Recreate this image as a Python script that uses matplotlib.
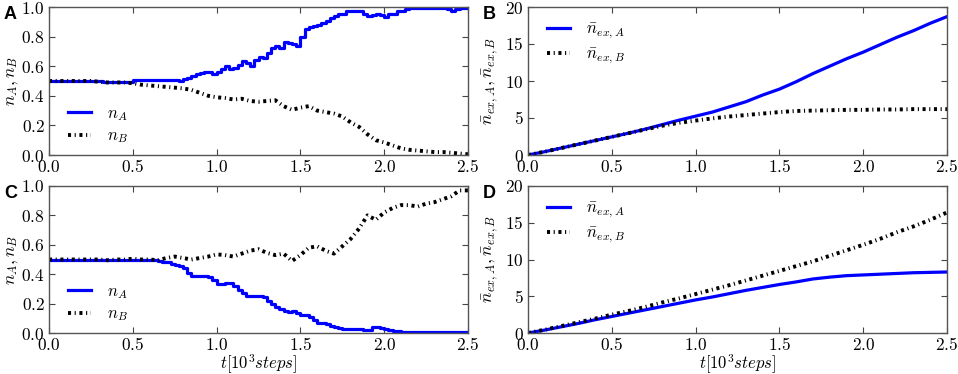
import numpy as np
import matplotlib
matplotlib.use("Agg")
import matplotlib.pyplot as plt
from matplotlib.ticker import FuncFormatter, MultipleLocator

plt.rcParams['mathtext.fontset'] = 'cm'
plt.rcParams['font.family'] = ['DejaVu Serif']
plt.rcParams['lines.scale_dashes'] = False

# ---------------- data ----------------
t_fine = np.linspace(0, 2.5, 101)   # 0.025 grid
t_mid = np.linspace(0, 2.5, 51)     # 0.05 grid
t_coarse = np.linspace(0, 2.5, 26)  # 0.1 grid

# Panel A
a_nA = [0.5] * 13 + [0.495] * 7 + [0.505] * 11 + [
    0.50, 0.515, 0.52, 0.535, 0.545, 0.555, 0.56, 0.56, 0.55, 0.56,
    0.58, 0.60, 0.58, 0.585, 0.61, 0.635, 0.62, 0.60, 0.64, 0.66,
    0.655, 0.69, 0.72, 0.735, 0.725, 0.765, 0.76, 0.75, 0.735, 0.80,
    0.85, 0.865, 0.875, 0.88, 0.89, 0.905, 0.925, 0.94, 0.95, 0.955,
    0.975, 0.975, 0.975, 0.97, 0.955, 0.94, 0.945, 0.95, 0.945, 0.935,
    0.95, 0.955, 0.97, 0.975, 0.985, 0.995, 0.995, 0.995, 0.995, 0.99,
    0.995, 0.99, 0.99, 0.99, 0.985, 0.975, 0.985, 0.99, 0.99, 0.99]
a_nB = [
    0.5, 0.5, 0.5, 0.5, 0.5, 0.5, 0.495, 0.49, 0.49, 0.49,
    0.485, 0.475, 0.47, 0.465, 0.46, 0.455, 0.45, 0.44, 0.42, 0.40,
    0.39, 0.385, 0.375, 0.38, 0.365, 0.36, 0.365, 0.37, 0.33, 0.305,
    0.32, 0.33, 0.30, 0.29, 0.28, 0.26, 0.22, 0.19, 0.14, 0.10,
    0.085, 0.065, 0.045, 0.035, 0.03, 0.025, 0.02, 0.02, 0.015, 0.01,
    0.005]

# Panel B
b_exA = [0, 0.45, 0.95, 1.45, 1.95, 2.45, 2.95, 3.5, 4.1, 4.7,
         5.25, 5.8, 6.5, 7.2, 8.1, 8.9, 9.9, 11.0, 12.0, 13.0,
         13.9, 14.9, 15.9, 16.8, 17.8, 18.7]
b_exB = [0, 0.45, 0.95, 1.45, 1.95, 2.45, 2.95, 3.45, 3.95, 4.35,
         4.65, 4.95, 5.2, 5.4, 5.6, 5.8, 5.95, 6.0, 6.05, 6.1,
         6.1, 6.15, 6.15, 6.2, 6.2, 6.2]

# Panel C
c_nA = [0.5] * 10 + [
    0.495, 0.495, 0.495, 0.5, 0.5, 0.5, 0.5, 0.5, 0.5, 0.5,
    0.5, 0.5, 0.495, 0.495, 0.495, 0.495, 0.49, 0.485, 0.48, 0.47,
    0.46, 0.455, 0.44, 0.41, 0.39, 0.385, 0.385, 0.385, 0.38, 0.36,
    0.33, 0.33, 0.34, 0.34, 0.32, 0.29, 0.27, 0.255, 0.255, 0.25,
    0.25, 0.245, 0.22, 0.20, 0.18, 0.16, 0.15, 0.14, 0.15, 0.135,
    0.12, 0.12, 0.11, 0.09, 0.07, 0.065, 0.06, 0.05, 0.04, 0.035,
    0.03, 0.03, 0.03, 0.03, 0.025, 0.02, 0.02, 0.04, 0.04, 0.035,
    0.03, 0.02, 0.015, 0.015, 0.005, 0.005, 0.005, 0.005, 0.005, 0.005] + [0.005] * 11
c_nB = [
    0.5, 0.5, 0.5, 0.5, 0.5, 0.5, 0.5, 0.495, 0.5, 0.5,
    0.505, 0.5, 0.5, 0.495, 0.51, 0.52, 0.51, 0.5, 0.51, 0.52,
    0.535, 0.53, 0.52, 0.54, 0.56, 0.57, 0.545, 0.53, 0.54, 0.49,
    0.53, 0.58, 0.59, 0.56, 0.54, 0.59, 0.64, 0.71, 0.80, 0.77,
    0.82, 0.85, 0.87, 0.87, 0.86, 0.88, 0.89, 0.91, 0.93, 0.97,
    0.97]

# Panel D
d_exA = [0, 0.4, 0.85, 1.3, 1.8, 2.25, 2.7, 3.15, 3.6, 4.05,
         4.5, 4.9, 5.35, 5.8, 6.2, 6.6, 6.95, 7.35, 7.6, 7.8,
         7.9, 8.0, 8.1, 8.2, 8.25, 8.3]
d_exB = [0, 0.45, 0.95, 1.45, 1.95, 2.5, 3.0, 3.55, 4.15, 4.7,
         5.3, 5.9, 6.5, 7.15, 7.8, 8.45, 9.1, 9.75, 10.5, 11.25,
         12.0, 12.8, 13.7, 14.5, 15.4, 16.4]

xticks = [0.0, 0.5, 1.0, 1.5, 2.0, 2.5]
panel_letters = ['A', 'B', 'C', 'D']

# ---------------- figure ----------------
W, H = 958, 374
fig = plt.figure(figsize=(W / 100, H / 100), dpi=100)

def px_axes(l, t, r, b):
    return fig.add_axes([l / W, 1 - b / H, (r - l) / W, (b - t) / H])

axA = px_axes(49, 7, 468, 155)
axB = px_axes(528, 7, 947, 155)
axC = px_axes(49, 186, 468, 333)
axD = px_axes(528, 186, 947, 333)

blue = '#0000ff'
DASH = (2.2, 2.6, 0.8, 2.6)
LW = 2.3

def style(ax, ymax, ystep, fmt):
    ax.set_xlim(0, 2.5)
    ax.set_ylim(0, ymax)
    ax.set_xticks(xticks)
    ax.yaxis.set_major_locator(MultipleLocator(ystep))
    ax.xaxis.set_major_formatter(FuncFormatter(lambda v, p: r'$%.1f$' % v))
    ax.yaxis.set_major_formatter(FuncFormatter(lambda v, p: fmt % v))
    ax.tick_params(direction='in', top=True, right=True, length=4,
                   width=0.8, labelsize=12.5, color='#444444')
    ax.tick_params(axis='x', pad=3)
    ax.tick_params(axis='y', pad=3)
    for s in ax.spines.values():
        s.set_color('#555555')
        s.set_linewidth(1.0)

LEG = dict(frameon=False, fontsize=12, handlelength=1.35, handletextpad=0.95,
           labelspacing=0.3, borderaxespad=0.0)

def plot_n(ax, nA, nB):
    ax.plot(t_fine, nA, color=blue, lw=LW, drawstyle='steps-post', label=r'$n_A$')
    ax.plot(t_mid, nB, color='black', lw=LW + 0.5, dashes=DASH, label=r'$n_B$')
    style(ax, 1.0, 0.2, r'$%.1f$')
    ax.set_ylabel(r'$n_A, n_B$', fontsize=12.5)
    ax.yaxis.set_label_coords(-0.066, 0.5)
    ax.legend(loc='lower left', bbox_to_anchor=(0.03, 0.02), **LEG)

def plot_ex(ax, exA, exB):
    ax.plot(t_coarse, exA, color=blue, lw=LW, label=r'$\bar{n}_{ex,A}$')
    ax.plot(t_coarse, exB, color='black', lw=LW + 0.5, dashes=DASH, label=r'$\bar{n}_{ex,B}$')
    style(ax, 20, 5, r'$%d$')
    ax.set_ylabel(r'$\bar{n}_{ex,A}, \bar{n}_{ex,B}$', fontsize=12.5)
    ax.yaxis.set_label_coords(-0.064, 0.5)
    ax.legend(loc='upper left', bbox_to_anchor=(0.03, 0.95), **LEG)

plot_n(axA, a_nA, a_nB)
plot_ex(axB, b_exA, b_exB)
plot_n(axC, c_nA, c_nB)
plot_ex(axD, d_exA, d_exB)

for ax in (axC, axD):
    ax.set_xlabel(r'$t[10^3 steps]$', fontsize=12)
    ax.xaxis.set_label_coords(0.5, -0.135)

for ax, letter in zip((axA, axB, axC, axD), panel_letters):
    pos = ax.get_position()
    fig.text(pos.x0 - 45 / W, pos.y1 + 1 / H, letter, fontsize=13, fontweight='bold',
             family='Liberation Sans', ha='left', va='top')

fig.savefig('out.png', dpi=100)
